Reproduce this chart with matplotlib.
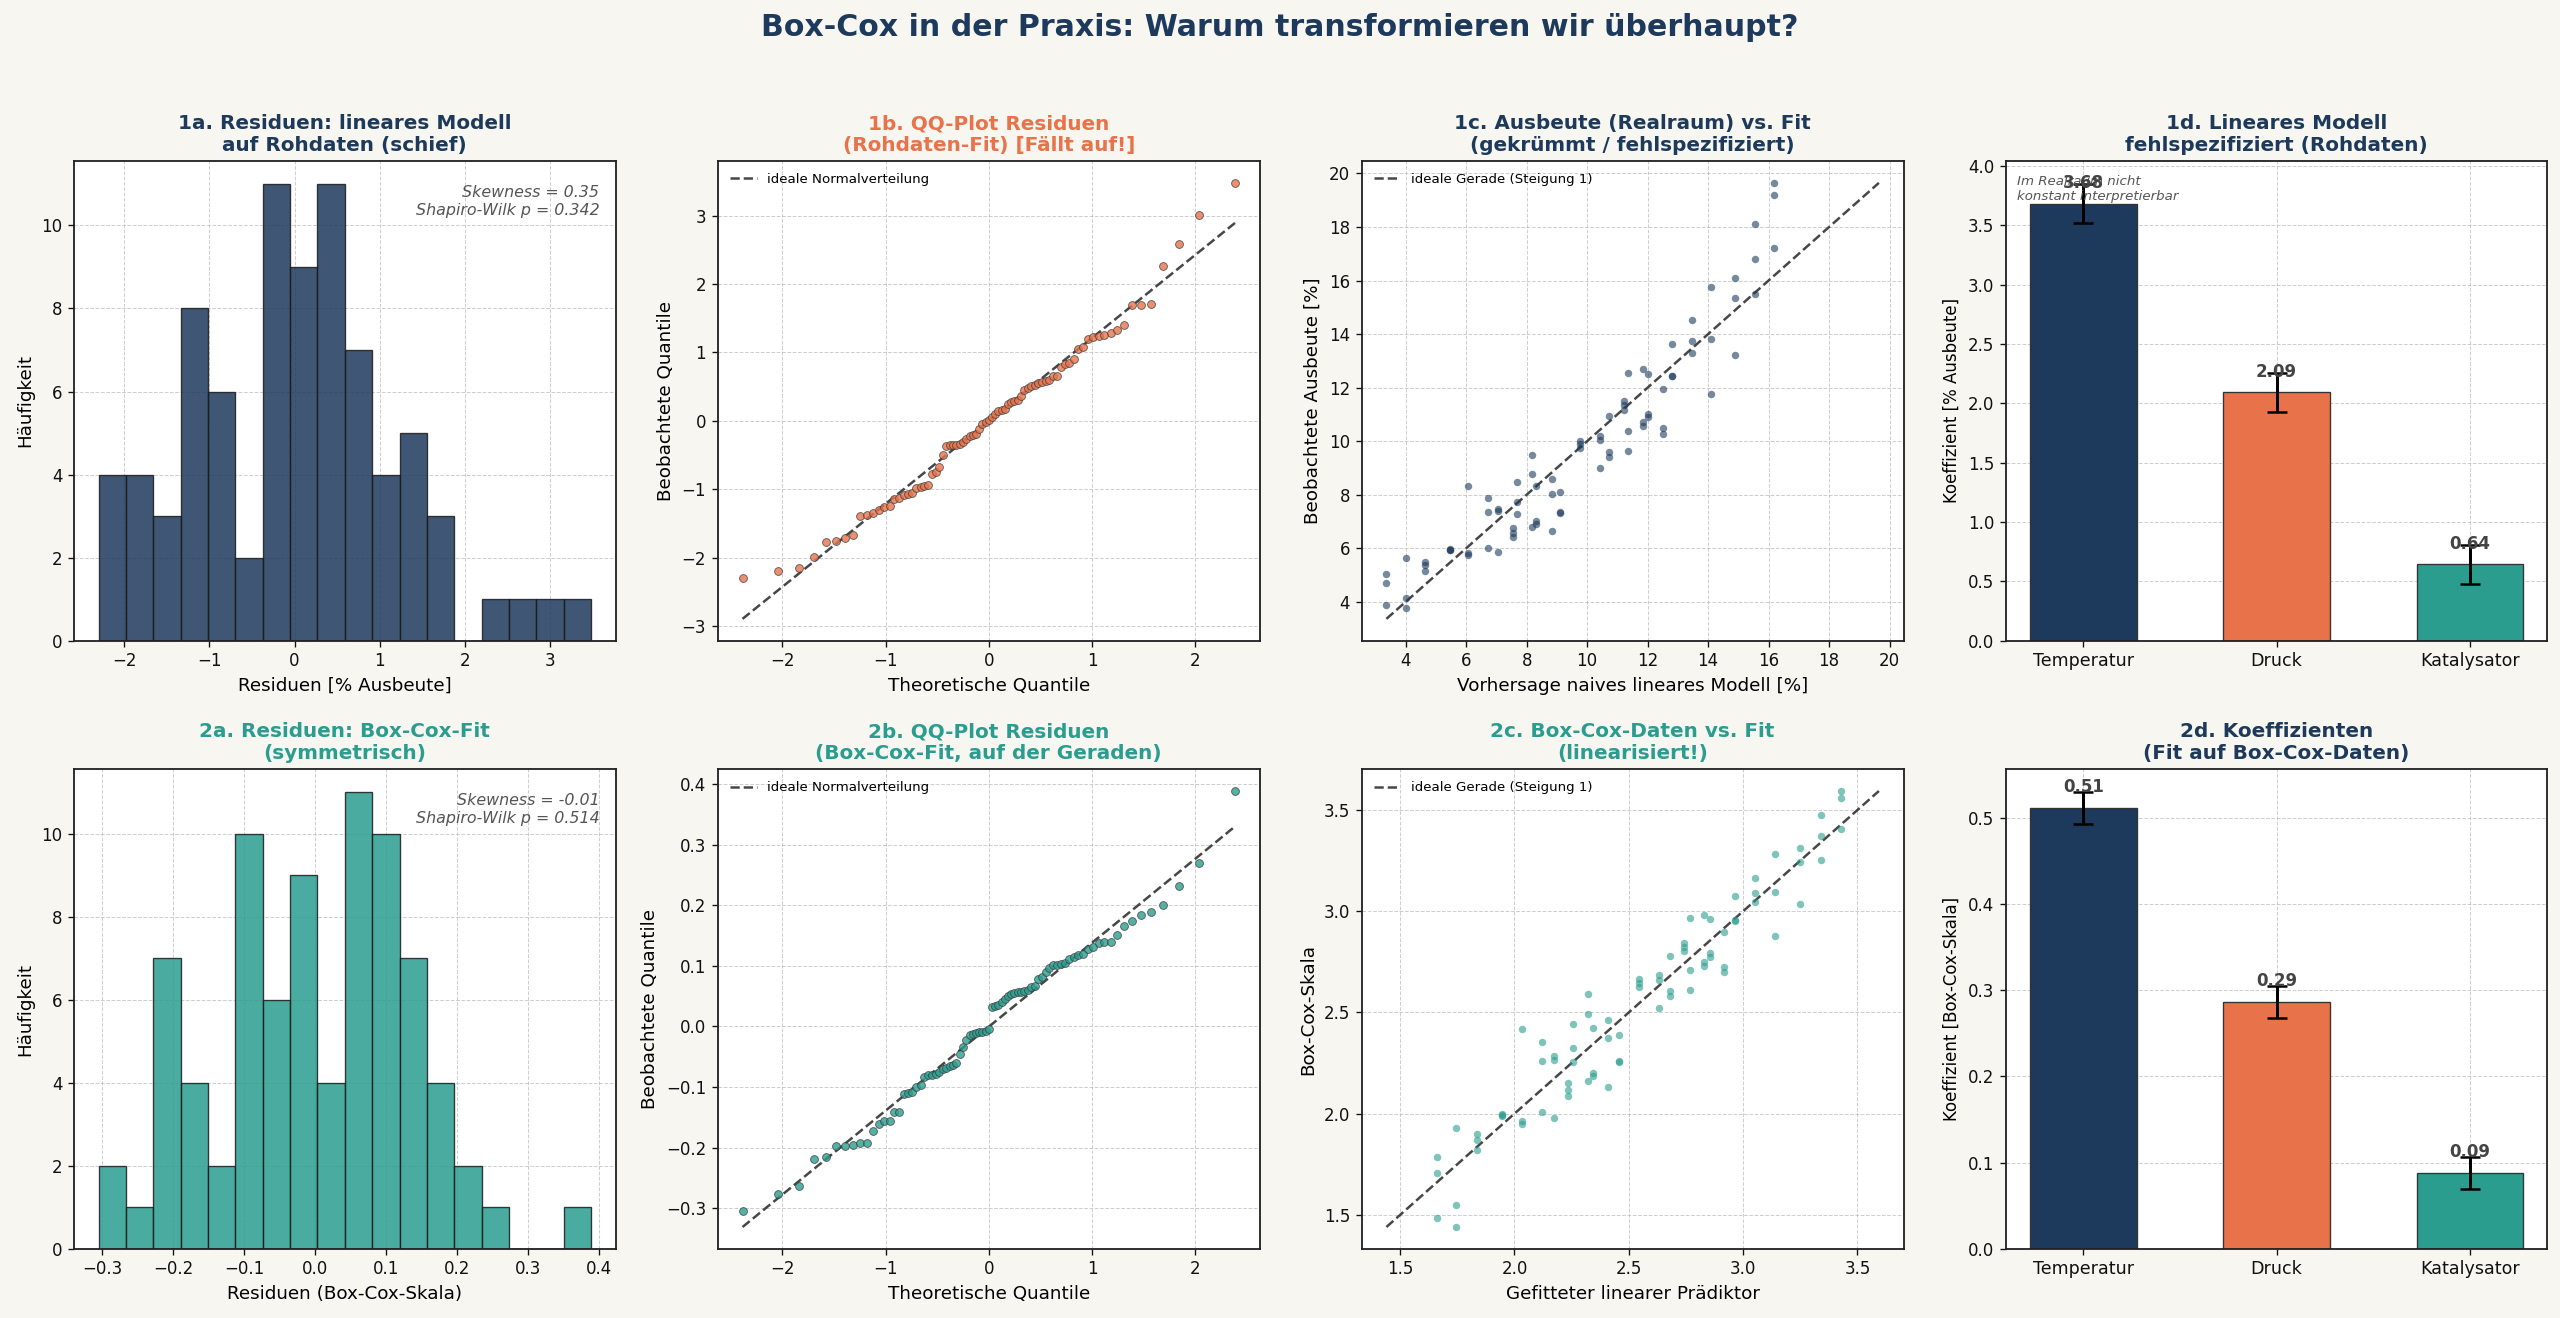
import numpy as np
import matplotlib
matplotlib.use("Agg")
import matplotlib.pyplot as plt
from statistics import NormalDist

NAVY = "#1d3a5c"
ORANGE = "#e8734a"
TEAL = "#2a9d8f"
BG = "#f7f6f0"

# ---------------- data ----------------
# residuals of the naive linear model on raw data (sorted)
resid_raw = [-2.30, -2.19, -2.15, -1.99,
             -1.77, -1.75, -1.71, -1.67,
             -1.39, -1.37, -1.345,
             -1.30, -1.26, -1.25, -1.14, -1.12, -1.08, -1.07, -1.06,
             -0.98, -0.97, -0.95, -0.94, -0.77, -0.75,
             -0.68, -0.50,
             -0.36, -0.355, -0.35, -0.35, -0.34, -0.31, -0.26, -0.22, -0.20, -0.19, -0.12,
             -0.04, -0.02, 0.01, 0.05, 0.10, 0.15, 0.16, 0.17, 0.25,
             0.275, 0.29, 0.30, 0.36, 0.45, 0.48, 0.51, 0.53, 0.55, 0.57, 0.58,
             0.60, 0.65, 0.66, 0.79, 0.83, 0.84, 0.90,
             1.05, 1.08, 1.20, 1.22,
             1.24, 1.25, 1.28, 1.33, 1.40,
             1.69, 1.70, 1.71,
             2.27, 2.59, 3.01, 3.48]

# residuals of the fit on Box-Cox data (sorted)
resid_bc = [-0.3046, -0.276,
            -0.263,
            -0.2195, -0.215, -0.198, -0.198, -0.196, -0.192, -0.192,
            -0.173, -0.161, -0.156, -0.156,
            -0.142, -0.142,
            -0.111, -0.110, -0.109, -0.100, -0.096, -0.083, -0.081, -0.080, -0.078, -0.076,
            -0.071, -0.068, -0.066, -0.063, -0.060, -0.045,
            -0.034, -0.022, -0.015, -0.012, -0.011, -0.010, -0.009, -0.007, -0.004,
            0.032, 0.034, 0.036, 0.040,
            0.045, 0.050, 0.053, 0.055, 0.056, 0.057, 0.058, 0.060, 0.065, 0.066, 0.078,
            0.082, 0.090, 0.097, 0.101, 0.102, 0.103, 0.104, 0.112, 0.114, 0.117,
            0.120, 0.127, 0.131, 0.137, 0.140, 0.140, 0.150,
            0.166, 0.174, 0.183, 0.188,
            0.200, 0.232,
            0.270,
            0.3885]

# naive linear model: fitted value per design point (27) and 3 observed yields each
fit_raw = [3.36, 4.00, 4.65, 5.45, 6.07, 6.73, 7.04, 7.54, 7.68, 8.18, 8.32, 8.83, 9.11,
           9.77, 10.41, 10.71, 11.21, 11.34, 11.86, 12.01, 12.50, 12.79, 13.46, 14.10,
           14.89, 15.55, 16.19]
obs_raw = [[5.02, 4.71, 3.89], [5.63, 4.13, 3.76], [5.50, 5.36, 5.16], [5.98, 5.95, 5.93],
           [8.32, 5.82, 5.74], [7.89, 7.34, 6.02], [7.48, 7.38, 5.86], [6.76, 6.58, 6.42],
           [8.48, 7.71, 7.29], [9.47, 8.78, 6.80], [8.32, 7.01, 6.90], [8.60, 8.01, 6.65],
           [8.11, 7.34, 7.32], [10.02, 9.89, 9.73], [10.19, 10.05, 8.99], [10.94, 9.61, 9.42],
           [11.49, 11.36, 11.16], [12.56, 10.37, 9.63], [12.70, 10.70, 10.56],
           [12.50, 11.02, 10.92], [11.96, 10.50, 10.27], [13.63, 12.45, 12.43],
           [14.52, 13.74, 13.31], [15.77, 13.81, 11.77], [16.09, 15.33, 13.22],
           [18.13, 16.80, 15.49], [19.65, 19.18, 17.22]]

# Box-Cox model: fitted linear predictor (27) and 3 transformed observations each
fit_bc = [1.660, 1.746, 1.836, 1.945, 2.033, 2.121, 2.171, 2.232, 2.256, 2.320, 2.344,
          2.408, 2.456, 2.544, 2.631, 2.680, 2.743, 2.768, 2.831, 2.855, 2.915, 2.965,
          3.053, 3.140, 3.250, 3.340, 3.426]
obs_bc = [[1.785, 1.708, 1.483], [1.929, 1.547, 1.440], [1.900, 1.872, 1.821],
          [2.000, 1.995, 1.989], [2.420, 1.966, 1.948], [2.352, 2.261, 2.010],
          [2.284, 2.265, 1.978], [2.153, 2.119, 2.089], [2.442, 2.323, 2.254],
          [2.590, 2.491, 2.161], [2.422, 2.203, 2.184], [2.463, 2.373, 2.131],
          [2.388, 2.259, 2.255], [2.663, 2.646, 2.624], [2.686, 2.661, 2.520],
          [2.780, 2.605, 2.582], [2.843, 2.824, 2.805], [2.967, 2.709, 2.609],
          [2.979, 2.750, 2.729], [2.960, 2.792, 2.775], [2.899, 2.726, 2.699],
          [3.077, 2.958, 2.952], [3.164, 3.088, 3.045], [3.283, 3.096, 2.877],
          [3.311, 3.241, 3.035], [3.475, 3.370, 3.254], [3.594, 3.558, 3.406]]

factors = ["Temperatur", "Druck", "Katalysator"]
coef_raw = [3.684, 2.093, 0.642]
se_raw = [0.166, 0.166, 0.166]
coef_bc = [0.511, 0.286, 0.0876]
se_bc = [0.0187, 0.0184, 0.0187]
bar_colors = [NAVY, ORANGE, TEAL]

stats_raw = "Skewness = 0.35\nShapiro-Wilk p = 0.342"
stats_bc = "Skewness = -0.01\nShapiro-Wilk p = 0.514"

# ---------------- helpers ----------------
def theo_quantiles(n):
    m = [(i - 0.3175) / (n + 0.365) for i in range(1, n + 1)]
    m[-1] = 0.5 ** (1.0 / n)
    m[0] = 1 - m[-1]
    nd = NormalDist()
    return np.array([nd.inv_cdf(p) for p in m])


def style_ax(ax):
    ax.set_facecolor("white")
    ax.grid(True, linestyle="--", linewidth=0.6, color="#b0b0b0", alpha=0.6)
    ax.set_axisbelow(True)
    for s in ax.spines.values():
        s.set_color("#222222")
        s.set_linewidth(1.1)
    ax.tick_params(labelsize=10, colors="#111111")


def hist_panel(ax, data, color, title, tcolor, xlabel, stats):
    style_ax(ax)
    ax.hist(data, bins=18, color=color, alpha=0.85, edgecolor="#1a1a1a", linewidth=0.8)
    ax.set_title(title, fontsize=12, fontweight="bold", color=tcolor)
    ax.set_xlabel(xlabel, fontsize=11)
    ax.set_ylabel("Häufigkeit", fontsize=11)
    ax.text(0.97, 0.95, stats, transform=ax.transAxes, ha="right", va="top",
            fontsize=9.5, style="italic", color="#555555", linespacing=1.25)


def qq_panel(ax, data, color, title, tcolor):
    style_ax(ax)
    osr = np.sort(np.asarray(data))
    osm = theo_quantiles(len(osr))
    slope, inter = np.polyfit(osm, osr, 1)
    xs = np.array([osm.min(), osm.max()])
    ax.scatter(osm, osr, s=22, color=color, alpha=0.8, edgecolors="#3a3a3a",
               linewidths=0.5, zorder=3)
    ax.plot(xs, slope * xs + inter, "--", color="#333333", lw=1.5, alpha=0.9,
            label="ideale Normalverteilung", zorder=2)
    ax.set_title(title, fontsize=12, fontweight="bold", color=tcolor)
    ax.set_xlabel("Theoretische Quantile", fontsize=11)
    ax.set_ylabel("Beobachtete Quantile", fontsize=11)
    ax.legend(loc="upper left", fontsize=8, frameon=False)


def scatter_panel(ax, fit, obs, color, title, tcolor, xlabel, ylabel):
    style_ax(ax)
    x = np.repeat(np.asarray(fit), 3)
    y = np.asarray(obs).ravel()
    ax.scatter(x, y, s=20, color=color, alpha=0.6, linewidths=0, zorder=3)
    lo = min(x.min(), y.min())
    hi = max(x.max(), y.max())
    ax.plot([lo, hi], [lo, hi], "--", color="#333333", lw=1.5, alpha=0.9,
            label="ideale Gerade (Steigung 1)", zorder=2)
    ax.set_title(title, fontsize=12, fontweight="bold", color=tcolor)
    ax.set_xlabel(xlabel, fontsize=11)
    ax.set_ylabel(ylabel, fontsize=11)
    ax.legend(loc="upper left", fontsize=8, frameon=False)


def bar_panel(ax, coefs, ses, title, tcolor, ylabel):
    style_ax(ax)
    pos = np.arange(len(factors))
    ax.bar(pos, coefs, width=0.55, color=bar_colors, edgecolor="#333333", linewidth=0.8,
           yerr=ses, capsize=6,
           error_kw=dict(elinewidth=1.8, capthick=1.5, ecolor="black"), zorder=2)
    off = 0.027 * max(coefs)
    for p, c in zip(pos, coefs):
        ax.text(p, c + off, f"{c:.2f}", ha="center", va="bottom", fontsize=10,
                fontweight="bold", color="#444444", zorder=4)
    top = max(c + e for c, e in zip(coefs, ses)) * 1.05
    ax.set_ylim(0, top)
    ax.set_xticks(pos)
    ax.set_xticklabels(factors, fontsize=10.5)
    ax.set_title(title, fontsize=12, fontweight="bold", color=tcolor)
    ax.set_ylabel(ylabel, fontsize=10)


# ---------------- figure ----------------
fig, axes = plt.subplots(2, 4, figsize=(2560 / 120, 1318 / 120), dpi=120)
fig.patch.set_facecolor(BG)
fig.subplots_adjust(left=0.0289, right=0.9951, bottom=0.0525, top=0.8778,
                    wspace=0.1886, hspace=0.268)

hist_panel(axes[0, 0], resid_raw, NAVY,
           "1a. Residuen: lineares Modell\nauf Rohdaten (schief)", NAVY,
           "Residuen [% Ausbeute]", stats_raw)
qq_panel(axes[0, 1], resid_raw, ORANGE,
         "1b. QQ-Plot Residuen\n(Rohdaten-Fit) [Fällt auf!]", ORANGE)
scatter_panel(axes[0, 2], fit_raw, obs_raw, NAVY,
              "1c. Ausbeute (Realraum) vs. Fit\n(gekrümmt / fehlspezifiziert)", NAVY,
              "Vorhersage naives lineares Modell [%]", "Beobachtete Ausbeute [%]")
bar_panel(axes[0, 3], coef_raw, se_raw,
          "1d. Lineares Modell\nfehlspezifiziert (Rohdaten)", NAVY,
          "Koeffizient [% Ausbeute]")
axes[0, 3].text(0.02, 0.97, "Im Realraum nicht\nkonstant interpretierbar",
                transform=axes[0, 3].transAxes, ha="left", va="top", fontsize=8,
                style="italic", color="#555555")

hist_panel(axes[1, 0], resid_bc, TEAL,
           "2a. Residuen: Box-Cox-Fit\n(symmetrisch)", TEAL,
           "Residuen (Box-Cox-Skala)", stats_bc)
qq_panel(axes[1, 1], resid_bc, TEAL,
         "2b. QQ-Plot Residuen\n(Box-Cox-Fit, auf der Geraden)", TEAL)
scatter_panel(axes[1, 2], fit_bc, obs_bc, TEAL,
              "2c. Box-Cox-Daten vs. Fit\n(linearisiert!)", TEAL,
              "Gefitteter linearer Prädiktor", "Box-Cox-Skala")
bar_panel(axes[1, 3], coef_bc, se_bc,
          "2d. Koeffizienten\n(Fit auf Box-Cox-Daten)", NAVY,
          "Koeffizient [Box-Cox-Skala]")

fig.text(0.5, 1 - 36 / 1318, "Box-Cox in der Praxis: Warum transformieren wir überhaupt?",
         ha="center", va="baseline", fontsize=18, fontweight="bold", color=NAVY)

fig.savefig("out.png", dpi=120, facecolor=BG)
